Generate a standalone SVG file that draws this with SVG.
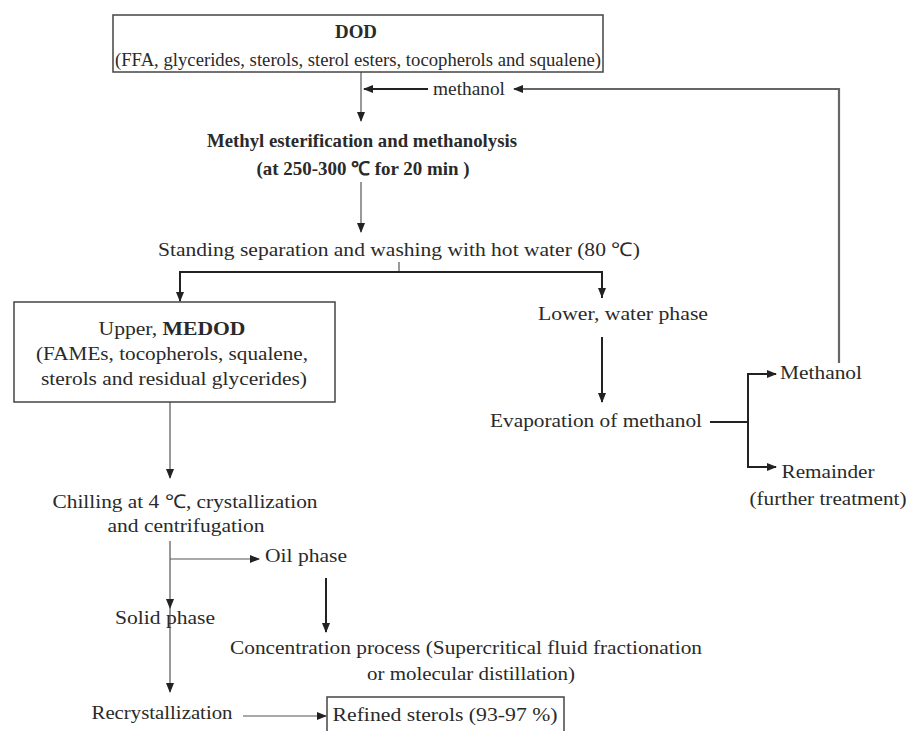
<svg xmlns="http://www.w3.org/2000/svg" width="911" height="731" viewBox="0 0 911 731">
<defs>
<marker id="ah" markerUnits="userSpaceOnUse" markerWidth="10" markerHeight="10" viewBox="0 0 10 10" refX="9" refY="5" orient="auto">
<path d="M0,1 L10,5 L0,9 Z" fill="#222"/>
</marker>
<style>
text{font-family:"Liberation Serif","Times New Roman",serif;font-size:19px;fill:#2a2a2a;text-anchor:middle}
.b{font-weight:bold}
.box{fill:#fff;stroke:#444;stroke-width:1.5}
.c{fill:none;stroke:#555;stroke-width:1.2}
.t{fill:none;stroke:#222;stroke-width:2}
.g{fill:none;stroke:#666;stroke-width:2.2}
</style>
</defs>
<rect width="911" height="731" fill="#fff"/>
<g id="connectors">
<path class="c" d="M361,72 V121" marker-end="url(#ah)"/>
<path class="t" d="M428,89 H364" marker-end="url(#ah)"/>
<path class="g" d="M839,363 V89 H514" marker-end="url(#ah)"/>
<path class="c" d="M361,182 V232" marker-end="url(#ah)"/>
<path class="c" d="M399,262 V272"/>
<path class="t" d="M180,298 V272 H602 V298"/>
<path class="t" d="M180,272 V301" marker-end="url(#ah)"/>
<path class="t" d="M602,272 V297" marker-end="url(#ah)"/>
<path class="t" d="M602,337 V402" marker-end="url(#ah)"/>
<path class="t" d="M710,422 H748"/>
<path class="t" d="M748,374 V467"/>
<path class="t" d="M747,374 H776" marker-end="url(#ah)"/>
<path class="t" d="M747,467 H776" marker-end="url(#ah)"/>
<path class="c" d="M170,402 V478" marker-end="url(#ah)"/>
<path class="c" d="M170,541 V608" marker-end="url(#ah)"/>
<path class="c" d="M170,559 H259" marker-end="url(#ah)"/>
<path class="c" d="M170,608 V692" marker-end="url(#ah)"/>
<path class="t" d="M326,578 V632" marker-end="url(#ah)"/>
<path class="c" d="M243,716 H326" marker-end="url(#ah)"/>
</g>
<g id="dod">
<rect class="box" x="113" y="15" width="490" height="57"/>
<text class="b" x="356" y="38" textLength="42" lengthAdjust="spacingAndGlyphs">DOD</text>
<text x="358" y="66" textLength="486" lengthAdjust="spacingAndGlyphs">(FFA, glycerides, sterols, sterol esters, tocopherols and squalene)</text>
</g>
<g id="methanol-in">
<text x="469" y="95" textLength="72" lengthAdjust="spacingAndGlyphs">methanol</text>
</g>
<g id="esterification">
<text class="b" x="362" y="147" textLength="310" lengthAdjust="spacingAndGlyphs">Methyl esterification and methanolysis</text>
<text class="b" x="363" y="175" textLength="213" lengthAdjust="spacingAndGlyphs">(at 250-300 ℃  for 20 min )</text>
</g>
<g id="standing">
<text x="399" y="256" textLength="482" lengthAdjust="spacingAndGlyphs">Standing separation and washing with hot water (80 ℃)</text>
</g>
<g id="upper">
<rect class="box" x="14" y="302" width="321" height="100"/>
<text x="172" y="335" textLength="147" lengthAdjust="spacingAndGlyphs">Upper, <tspan class="b">MEDOD</tspan></text>
<text x="172" y="360" textLength="272" lengthAdjust="spacingAndGlyphs">(FAMEs, tocopherols, squalene,</text>
<text x="174" y="385" textLength="266" lengthAdjust="spacingAndGlyphs">sterols and residual glycerides)</text>
</g>
<g id="lower">
<text x="623" y="320" textLength="170" lengthAdjust="spacingAndGlyphs">Lower, water phase</text>
</g>
<g id="evaporation">
<text x="596" y="427" textLength="212" lengthAdjust="spacingAndGlyphs">Evaporation of methanol</text>
</g>
<g id="methanol-out">
<text x="821" y="379" textLength="82" lengthAdjust="spacingAndGlyphs">Methanol</text>
</g>
<g id="remainder">
<text x="828" y="478" textLength="93" lengthAdjust="spacingAndGlyphs">Remainder</text>
<text x="828" y="505" textLength="157" lengthAdjust="spacingAndGlyphs">(further treatment)</text>
</g>
<g id="chilling">
<text x="185" y="508" textLength="265" lengthAdjust="spacingAndGlyphs">Chilling at 4 ℃, crystallization</text>
<text x="186" y="532" textLength="157" lengthAdjust="spacingAndGlyphs">and centrifugation</text>
</g>
<g id="oil">
<text x="306" y="562" textLength="82" lengthAdjust="spacingAndGlyphs">Oil phase</text>
</g>
<g id="solid">
<text x="165" y="624" textLength="100" lengthAdjust="spacingAndGlyphs">Solid phase</text>
</g>
<g id="concentration">
<text x="466" y="654" textLength="472" lengthAdjust="spacingAndGlyphs">Concentration process (Supercritical fluid fractionation</text>
<text x="471" y="680" textLength="208" lengthAdjust="spacingAndGlyphs">or molecular distillation)</text>
</g>
<g id="recrystallization">
<text x="162" y="719" textLength="141" lengthAdjust="spacingAndGlyphs">Recrystallization</text>
</g>
<g id="refined">
<rect class="box" x="327" y="697" width="237" height="40"/>
<text x="445" y="721" textLength="225" lengthAdjust="spacingAndGlyphs">Refined sterols (93-97 %)</text>
</g>
</svg>
